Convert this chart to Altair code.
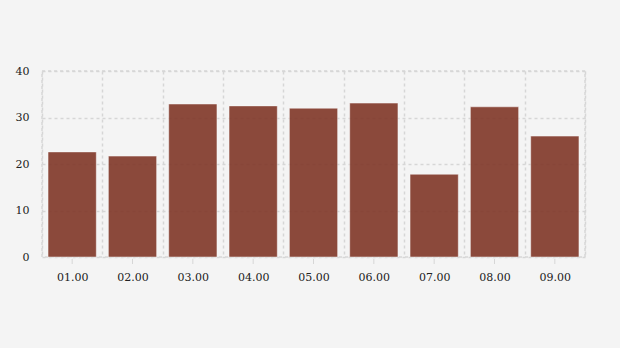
import altair as alt
import pandas as pd

months = ["01.00", "02.00", "03.00", "04.00", "05.00", "06.00", "07.00", "08.00", "09.00"]
values = [22.6, 21.7, 32.9, 32.5, 32.0, 33.1, 17.8, 32.3, 26.0]

df = pd.DataFrame({"month": months, "value": values})

font = "DejaVu Serif"
grid_color = "#d6d6d6"

base = alt.Chart(df)

bars = base.mark_bar(color="#803728", opacity=0.9, stroke="#ffffff", strokeWidth=0.8,
                     strokeOpacity=0.6, width=alt.RelativeBandSize(0.8)).encode(
    x=alt.X("month:N", sort=months, title=None,
            scale=alt.Scale(paddingInner=0, paddingOuter=0),
            axis=alt.Axis(labelAngle=0, grid=True, tickBand="extent", gridColor=grid_color,
                          gridDash=[3, 3], gridWidth=1.5, domain=False, ticks=False,
                          labelPadding=14, labelFont=font, labelFontSize=11,
                          labelColor="#222222")),
    y=alt.Y("value:Q", title=None, scale=alt.Scale(domain=[0, 40]),
            axis=alt.Axis(values=[0, 10, 20, 30, 40], grid=True, gridColor=grid_color,
                          gridDash=[3, 3], gridWidth=1.5, domain=False, ticks=False,
                          labelPadding=13, labelFont=font, labelFontSize=11,
                          labelColor="#222222")),
)

ticks_layer = base.mark_rule(color="#d6d6d6", strokeWidth=1).encode(
    x=alt.X("month:N", sort=months),
    y=alt.value(188),
    y2=alt.value(193),
)

chart = alt.layer(bars, ticks_layer).properties(
    width=543, height=186,
    background="#f4f4f4",
    autosize=alt.AutoSizeParams(type="none"),
    padding={"left": 42, "top": 71, "right": 35, "bottom": 91},
).configure_view(stroke=grid_color, strokeDash=[3, 3], strokeWidth=1.5)

chart.save("out.html", embed_options={"renderer": "svg", "actions": False})
